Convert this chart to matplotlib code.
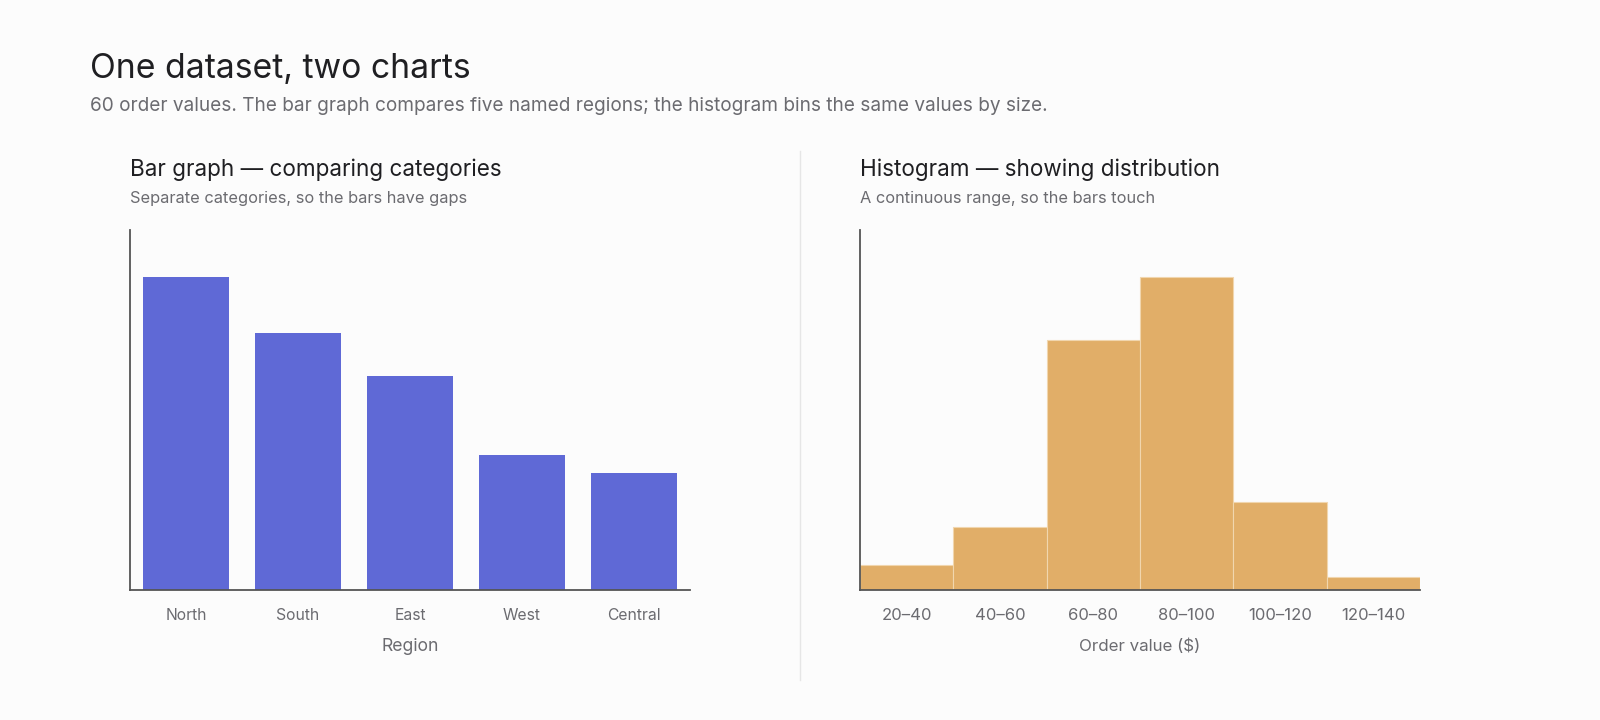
import matplotlib
matplotlib.use("Agg")
import matplotlib.pyplot as plt
from matplotlib.lines import Line2D

# ---- data ----
regions = ["North", "South", "East", "West", "Central"]
region_values = [1540, 1265, 1055, 665, 575]

bin_edges = [20, 40, 60, 80, 100, 120, 140]
bin_labels = ["20–40", "40–60", "60–80", "80–100", "100–120", "120–140"]
bin_counts = [2, 5, 20, 25, 7, 1]

# ---- style ----
W, H = 1600, 720
BG = "#FCFCFC"
BLUE = "#5F69D6"
ORANGE = "#E1AE68"
DARK = "#1F1F22"
GREY = "#6B6B70"
AXIS = "#555555"
FONT = ["Inter", "DejaVu Sans"]
plt.rcParams["font.family"] = FONT

fig = plt.figure(figsize=(W / 100, H / 100), dpi=100, facecolor=BG)


def fx(px):
    return px / W


def fy(py):
    return 1 - py / H


def style_axes(ax, labelsize):
    ax.set_facecolor(BG)
    for s in ("top", "right"):
        ax.spines[s].set_visible(False)
    for s in ("left", "bottom"):
        ax.spines[s].set_color(AXIS)
        ax.spines[s].set_linewidth(1.3)
    ax.set_yticks([])
    ax.tick_params(axis="x", length=0, pad=13, labelsize=labelsize, labelcolor=GREY)


# header
fig.text(fx(90), fy(78), "One dataset, two charts", fontsize=24.3, color=DARK, va="baseline")
fig.text(fx(90), fy(111),
         "60 order values. The bar graph compares five named regions; the histogram bins the same values by size.",
         fontsize=13.7, color=GREY, va="baseline")

# left panel
axL = fig.add_axes([fx(130), fy(590), fx(560), 360 / H])
style_axes(axL, 11.3)
axL.bar(range(len(regions)), region_values, width=86 / 112, color=BLUE)
axL.set_xlim(-0.5, len(regions) - 0.5)
axL.set_ylim(0, max(region_values) * 1.15)
axL.set_xticks(range(len(regions)))
axL.set_xticklabels(regions)
axL.set_xlabel("Region", fontsize=12.7, color=GREY, labelpad=11)

fig.text(fx(130), fy(176), "Bar graph — comparing categories", fontsize=16.2, color=DARK, va="baseline")
fig.text(fx(130), fy(203), "Separate categories, so the bars have gaps", fontsize=11.8, color=GREY, va="baseline")

# divider
fig.add_artist(Line2D([fx(800), fx(800)], [fy(151), fy(680)], color="#E6E6E6", linewidth=1))

# right panel
axR = fig.add_axes([fx(860), fy(590), fx(560), 360 / H])
style_axes(axR, 12)
axR.bar(bin_edges[:-1], bin_counts, width=20, align="edge", color=ORANGE,
        edgecolor="#F1D6AE", linewidth=0.8)
axR.set_xlim(bin_edges[0], bin_edges[-1])
axR.set_ylim(0, max(bin_counts) * 1.15)
centers = [(a + b) / 2 for a, b in zip(bin_edges[:-1], bin_edges[1:])]
axR.set_xticks(centers)
axR.set_xticklabels(bin_labels)
axR.set_xlabel("Order value ($)", fontsize=12.2, color=GREY, labelpad=11)

fig.text(fx(860), fy(176), "Histogram — showing distribution", fontsize=16.2, color=DARK, va="baseline")
fig.text(fx(860), fy(203), "A continuous range, so the bars touch", fontsize=11.8, color=GREY, va="baseline")

fig.savefig("out.png", dpi=100, facecolor=BG)
